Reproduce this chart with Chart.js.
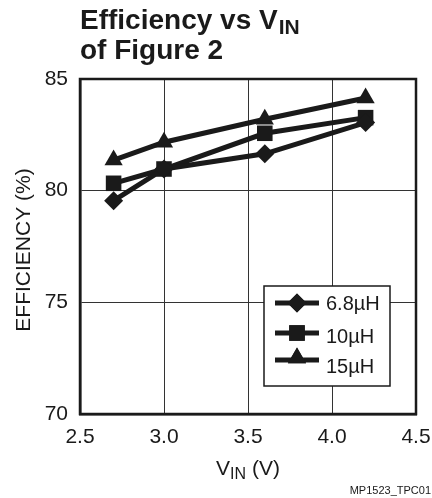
<!DOCTYPE html>
<html>
<head>
<meta charset="utf-8">
<script src="https://cdn.jsdelivr.net/npm/chart.js@4/dist/chart.umd.min.js"></script>
<style>
  html, body { margin: 0; padding: 0; background: #fff; }
  #wrap { width: 432px; height: 498px; position: relative; }
</style>
</head>
<body>
<div id="wrap"><canvas id="c" width="432" height="498"></canvas></div>
<script>
const vin = [2.7, 3.0, 3.6, 4.2];
const eff68 = [79.55, 80.97, 81.65, 83.05];
const eff10 = [80.33, 80.97, 82.57, 83.27];
const eff15 = [81.37, 82.17, 83.2, 84.15];
const seriesLabels = ['6.8\u00B5H', '10\u00B5H', '15\u00B5H'];
const xTicks = [2.5, 3.0, 3.5, 4.0, 4.5];
const yTicks = [70, 75, 80, 85];

const FONT = '"Liberation Sans", Arial, Helvetica, sans-serif';
const INK = '#1a1a1a';

function pts(ys) { return vin.map((x, i) => ({ x: x, y: ys[i] })); }

const styles = [
  { pointStyle: 'rectRot', radius: 9.5 },
  { pointStyle: 'rect', radius: 11 },
  { pointStyle: 'triangle', radius: 10.5 }
];
const seriesData = [eff68, eff10, eff15];

const datasets = seriesData.map((d, i) => ({
  label: seriesLabels[i],
  data: pts(d),
  borderColor: INK,
  backgroundColor: INK,
  borderWidth: 5,
  pointStyle: styles[i].pointStyle,
  pointRadius: styles[i].radius,
  pointHoverRadius: styles[i].radius,
  pointBorderWidth: 0,
  pointBackgroundColor: INK,
  tension: 0
}));

const framePlugin = {
  id: 'frame',
  beforeDatasetsDraw(chart) {
    const a = chart.chartArea, ctx = chart.ctx;
    ctx.save();
    ctx.strokeStyle = INK;
    ctx.lineWidth = 2.5;
    ctx.strokeRect(a.left, a.top, a.right - a.left, a.bottom - a.top);
    ctx.restore();
  }
};

function drawMarker(ctx, style, r, x, y) {
  if (Chart.helpers && Chart.helpers.drawPoint) {
    Chart.helpers.drawPoint(ctx, { pointStyle: style, radius: r, borderWidth: 0, rotation: 0 }, x, y);
    ctx.fill();
    return;
  }
  ctx.beginPath();
  if (style === 'rectRot') {
    ctx.moveTo(x, y - r); ctx.lineTo(x + r, y); ctx.lineTo(x, y + r); ctx.lineTo(x - r, y);
  } else if (style === 'rect') {
    const s = r * Math.SQRT1_2;
    ctx.rect(x - s, y - s, 2 * s, 2 * s);
  } else {
    ctx.moveTo(x, y - r);
    ctx.lineTo(x + r * Math.sin(2 * Math.PI / 3), y - r * Math.cos(2 * Math.PI / 3));
    ctx.lineTo(x + r * Math.sin(4 * Math.PI / 3), y - r * Math.cos(4 * Math.PI / 3));
  }
  ctx.closePath();
  ctx.fill();
}

const textPlugin = {
  id: 'texts',
  afterDraw(chart) {
    const ctx = chart.ctx;
    const a = chart.chartArea;
    ctx.save();
    ctx.fillStyle = INK;
    ctx.textBaseline = 'alphabetic';
    ctx.textAlign = 'left';
    // Title
    ctx.font = 'bold 28px ' + FONT;
    const t1 = 'Efficiency vs V';
    ctx.fillText(t1, 80, 29);
    const w1 = ctx.measureText(t1).width;
    ctx.font = 'bold 21px ' + FONT;
    ctx.fillText('IN', 80 + w1 + 1, 34);
    ctx.font = 'bold 28px ' + FONT;
    ctx.fillText('of Figure 2', 80, 59);

    // X axis title
    ctx.font = '21px ' + FONT;
    const wV = ctx.measureText('V').width;
    const wRest = ctx.measureText(' (V)').width;
    ctx.font = '16px ' + FONT;
    const wIN = ctx.measureText('IN').width;
    const total = wV + wIN + wRest;
    let x0 = (a.left + a.right) / 2 - total / 2;
    ctx.font = '21px ' + FONT;
    ctx.fillText('V', x0, 475);
    ctx.font = '16px ' + FONT;
    ctx.fillText('IN', x0 + wV, 479);
    ctx.font = '21px ' + FONT;
    ctx.fillText(' (V)', x0 + wV + wIN, 475);

    // Y axis title
    ctx.save();
    ctx.translate(30, 250);
    ctx.rotate(-Math.PI / 2);
    ctx.textAlign = 'center';
    ctx.font = '21px ' + FONT;
    ctx.fillText('EFFICIENCY (%)', 0, 0);
    ctx.restore();

    // Figure code
    ctx.font = '11px ' + FONT;
    ctx.textAlign = 'right';
    ctx.fillText('MP1523_TPC01', 431, 494);

    // Legend
    const bx = 264, by = 286, bw = 126, bh = 100;
    ctx.fillStyle = '#fff';
    ctx.fillRect(bx, by, bw, bh);
    ctx.strokeStyle = INK;
    ctx.lineWidth = 1.5;
    ctx.strokeRect(bx, by, bw, bh);
    const rowsLine = [303, 333, 360];
    const rowsText = [310, 343, 373];
    ctx.fillStyle = INK;
    chart.data.datasets.forEach((ds, i) => {
      ctx.strokeStyle = INK;
      ctx.lineWidth = 5;
      ctx.beginPath();
      ctx.moveTo(275, rowsLine[i]);
      ctx.lineTo(319, rowsLine[i]);
      ctx.stroke();
      let my = rowsLine[i];
      if (ds.pointStyle === 'triangle') my = rowsLine[i] - 2;
      drawMarker(ctx, ds.pointStyle, ds.pointRadius, 297, my);
      ctx.font = '20px ' + FONT;
      ctx.textAlign = 'left';
      ctx.fillStyle = INK;
      ctx.fillText(ds.label, 326, rowsText[i]);
    });
    ctx.restore();
  }
};

new Chart(document.getElementById('c'), {
  type: 'line',
  data: { datasets: datasets },
  options: {
    responsive: false,
    animation: false,
    devicePixelRatio: 1,
    layout: { padding: { top: 79, right: 16, left: 0, bottom: 0 } },
    plugins: { legend: { display: false }, title: { display: false }, tooltip: { enabled: false } },
    scales: {
      x: {
        type: 'linear',
        min: xTicks[0],
        max: xTicks[xTicks.length - 1],
        afterBuildTicks(scale) { scale.ticks = xTicks.map(v => ({ value: v })); },
        afterFit(scale) { scale.height = 84; scale.paddingLeft = 0; scale.paddingRight = 0; },
        ticks: {
          font: { family: FONT, size: 21 },
          color: INK,
          padding: 11,
          maxRotation: 0,
          callback: v => Number(v).toFixed(1)
        },
        grid: { color: '#333', lineWidth: 1, drawTicks: false },
        border: { display: true, color: INK, width: 2.5 }
      },
      y: {
        min: yTicks[0],
        max: yTicks[yTicks.length - 1],
        afterBuildTicks(scale) { scale.ticks = yTicks.map(v => ({ value: v })); },
        afterFit(scale) { scale.width = 80; scale.paddingTop = 0; scale.paddingBottom = 0; },
        ticks: {
          font: { family: FONT, size: 21 },
          color: INK,
          padding: 12
        },
        grid: { color: '#333', lineWidth: 1, drawTicks: false },
        border: { display: true, color: INK, width: 2.5 }
      }
    }
  },
  plugins: [framePlugin, textPlugin]
});
</script>
</body>
</html>
